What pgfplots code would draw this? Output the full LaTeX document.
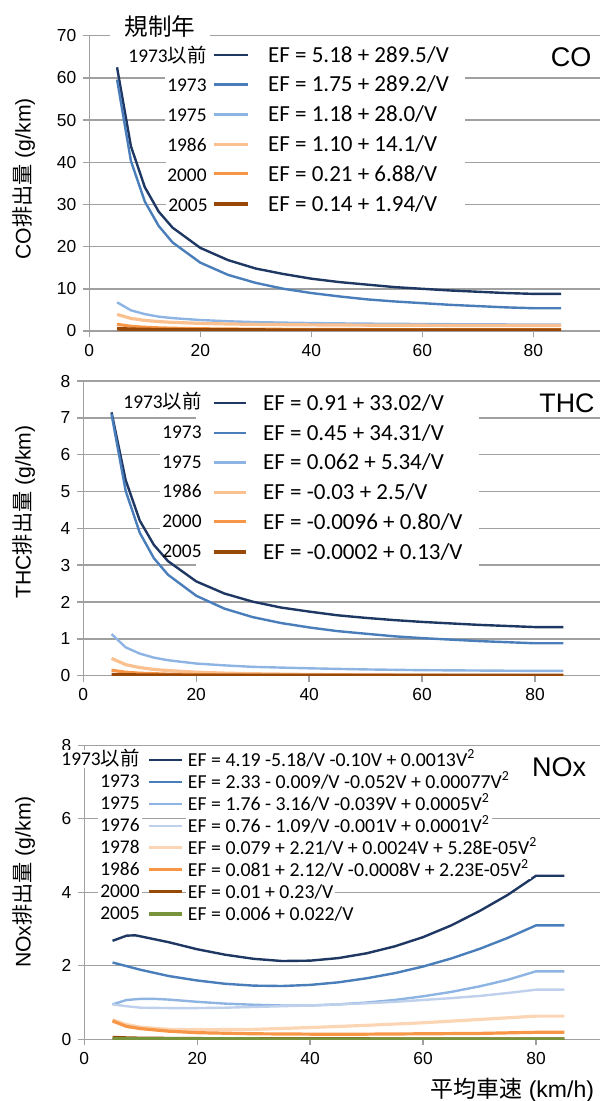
\documentclass[border=0pt]{standalone}
\usepackage{fontspec}
\usepackage{pgfplots}
\pgfplotsset{compat=1.18}
\setmainfont{Liberation Sans}
\newfontfamily\calib{Carlito}
\newfontfamily\jp{Noto Sans CJK JP}

\definecolor{cNavy}{RGB}{31,56,99}
\definecolor{cBlue}{RGB}{74,126,187}
\definecolor{cLBlue}{RGB}{141,180,226}
\definecolor{cPBlue}{RGB}{190,208,235}
\definecolor{cPOrange}{RGB}{252,213,181}
\definecolor{cLOrange}{RGB}{250,192,144}
\definecolor{cOrange}{RGB}{247,150,70}
\definecolor{cBrown}{RGB}{152,72,7}
\definecolor{cGreen}{RGB}{119,147,60}
\definecolor{gridc}{RGB}{160,160,160}

\pgfplotsset{
  panel/.style={
    scale only axis, anchor=south west,
    xmin=0, ymin=0, xtick={0,20,40,60,80},
    axis lines=left,
    axis line style={-, draw=gridc, line width=0.7pt},
    ymajorgrids, grid style={draw=gridc, line width=0.7pt},
    tick align=outside, major tick length=3pt,
    tick style={draw=gridc, line width=0.7pt},
    ticklabel style={font=\fontsize{8.7}{10}\selectfont},
    /pgf/number format/assume math mode=true,
    ylabel style={anchor=center, font=\fontsize{10.6}{12}\selectfont},
    no marks, line join=round,
    legend cell align=left,
  },
}

\begin{document}
\begin{tikzpicture}
\useasboundingbox (0,0) rectangle (300pt,550.5pt);

% ---- CO ----
\begin{axis}[panel, at={(44.65pt,385pt)}, width=255.3pt, height=147.65pt,
  xmax=92, ymax=70, ytick={0,10,...,70},
  ylabel={CO{\jp 排出量} (g/km)},
  ylabel style={at={(axis description cs:-0.128,0.515)}},
  legend style={at={(axis description cs:0.1502,0.9795)}, anchor=north west,
    fill=white, draw=none, inner xsep=8pt, inner ysep=1pt,
    row sep=4.3pt, column sep=9pt,
    font=\calib\fontsize{11.5}{12}\selectfont,
    nodes={inner sep=0pt, text height=9pt, text depth=1.6pt}},
  legend image code/.code={\path (-15pt,0pt); \draw[#1] (0pt,0pt) -- (17pt,0pt);},
]
\addplot[cNavy, line width=1.2pt] coordinates {
  (5,62.5) (7.5,43.8) (10,34.1) (12.5,28.3) (15,24.5) (20,19.7) (25,16.8)
  (30,14.8) (35,13.5) (40,12.4) (45,11.6) (50,11.0) (55,10.4) (60,10.0)
  (65,9.6) (70,9.3) (75,9.0) (80,8.8) (85,8.8)};
\addplot[cBlue, line width=1.2pt] coordinates {
  (5,59.6) (7.5,40.3) (10,30.7) (12.5,24.9) (15,21.0) (20,16.2) (25,13.3)
  (30,11.4) (35,10.0) (40,9.0) (45,8.2) (50,7.5) (55,7.0) (60,6.6)
  (65,6.2) (70,5.9) (75,5.6) (80,5.4) (85,5.4)};
\addplot[cLBlue, line width=1.2pt] coordinates {
  (5,6.8) (7.5,4.9) (10,4.0) (12.5,3.4) (15,3.05) (20,2.6) (25,2.3)
  (30,2.1) (35,1.98) (40,1.88) (45,1.8) (50,1.74) (55,1.69) (60,1.65)
  (65,1.61) (70,1.58) (75,1.55) (80,1.53) (85,1.53)};
\addplot[cLOrange, line width=1.6pt] coordinates {
  (5,3.92) (7.5,2.98) (10,2.51) (12.5,2.23) (15,2.04) (20,1.81) (25,1.66)
  (30,1.57) (35,1.5) (40,1.45) (45,1.41) (50,1.38) (55,1.36) (60,1.34)
  (65,1.32) (70,1.3) (75,1.29) (80,1.28) (85,1.28)};
\addplot[cOrange, line width=1.5pt] coordinates {
  (5,1.59) (7.5,1.13) (10,0.9) (12.5,0.76) (15,0.67) (20,0.55) (25,0.49)
  (30,0.44) (35,0.41) (40,0.38) (50,0.35) (60,0.32) (70,0.31) (80,0.3) (85,0.3)};
\addplot[cBrown, line width=1.9pt] coordinates {
  (5,0.53) (7.5,0.4) (10,0.33) (15,0.27) (20,0.24) (30,0.2) (40,0.19)
  (50,0.18) (60,0.17) (70,0.17) (80,0.16) (85,0.16)};
\addlegendentry{EF = 5.18 + 289.5/V}
\addlegendentry{EF = 1.75 + 289.2/V}
\addlegendentry{EF = 1.18 + 28.0/V}
\addlegendentry{EF = 1.10 + 14.1/V}
\addlegendentry{EF = 0.21 + 6.88/V}
\addlegendentry{EF = 0.14 + 1.94/V}
\end{axis}

% ---- THC ----
\begin{axis}[panel, at={(41.65pt,212.65pt)}, width=258.35pt, height=147.35pt,
  xmax=91.5, ymax=8, ytick={0,1,...,8},
  ylabel={THC{\jp 排出量} (g/km)},
  ylabel style={at={(axis description cs:-0.115,0.555)}},
  legend style={at={(axis description cs:0.2181,0.9759)}, anchor=north west,
    fill=white, draw=none, inner xsep=8pt, inner ysep=2pt,
    row sep=4.25pt, column sep=7.5pt,
    font=\calib\fontsize{11.5}{12}\selectfont,
    nodes={inner sep=0pt, text height=9pt, text depth=1.6pt}},
  legend image code/.code={\draw[#1] (0pt,0pt) -- (16pt,0pt);},
]
\addplot[cNavy, line width=1.2pt] coordinates {
  (5,7.15) (7.5,5.31) (10,4.21) (12.5,3.55) (15,3.11) (20,2.56) (25,2.23)
  (30,2.01) (35,1.85) (40,1.74) (45,1.64) (50,1.57) (55,1.51) (60,1.46)
  (65,1.42) (70,1.38) (75,1.35) (80,1.32) (85,1.32)};
\addplot[cBlue, line width=1.2pt] coordinates {
  (5,7.1) (7.5,5.02) (10,3.88) (12.5,3.19) (15,2.74) (20,2.17) (25,1.82)
  (30,1.59) (35,1.43) (40,1.31) (45,1.21) (50,1.14) (55,1.07) (60,1.02)
  (65,0.98) (70,0.94) (75,0.91) (80,0.88) (85,0.88)};
\addplot[cLBlue, line width=1.2pt] coordinates {
  (5,1.13) (7.5,0.77) (10,0.6) (12.5,0.49) (15,0.42) (20,0.33) (25,0.28)
  (30,0.24) (40,0.2) (50,0.17) (60,0.15) (70,0.14) (80,0.13) (85,0.13)};
\addplot[cLOrange, line width=1.6pt] coordinates {
  (5,0.47) (7.5,0.3) (10,0.22) (12.5,0.17) (15,0.14) (20,0.095) (25,0.07)
  (30,0.053) (40,0.033) (50,0.02) (60,0.012) (70,0.006) (80,0.001) (85,0.001)};
\addplot[cOrange, line width=1.5pt] coordinates {
  (5,0.15) (7.5,0.097) (10,0.07) (15,0.044) (20,0.03) (30,0.017) (40,0.01)
  (60,0.004) (80,0.0004) (85,0.0004)};
\addplot[cBrown, line width=1.9pt] coordinates {
  (5,0.026) (10,0.013) (20,0.0063) (40,0.003) (80,0.0014) (85,0.0014)};
\addlegendentry{EF = 0.91 + 33.02/V}
\addlegendentry{EF = 0.45 + 34.31/V}
\addlegendentry{EF = 0.062 + 5.34/V}
\addlegendentry{EF = -0.03 + 2.5/V}
\addlegendentry{EF = -0.0096 + 0.80/V}
\addlegendentry{EF = -0.0002 + 0.13/V}
\end{axis}

% ---- NOx ----
\begin{axis}[panel, at={(42.15pt,30.85pt)}, width=257.75pt, height=147pt,
  xmax=91.3, ymax=8, ytick={0,2,...,8},
  ylabel={NOx{\jp 排出量} (g/km)},
  ylabel style={at={(axis description cs:-0.117,0.535)}},
  xlabel={{\jp 平均車速} (km/h)},
  xlabel style={at={(axis description cs:0.83,-0.172)}, anchor=center,
    font=\fontsize{11.5}{12}\selectfont},
  legend style={at={(axis description cs:0.1216,0.984)}, anchor=north west,
    fill=none, draw=none, inner sep=0pt,
    row sep=1.7pt, column sep=1pt,
    font=\calib\fontsize{9.9}{10}\selectfont,
    nodes={inner xsep=1pt, inner ysep=0.5pt, text height=7.3pt, text depth=1pt, fill=white}},
  legend image code/.code={\draw[#1] (0pt,0pt) -- (16.5pt,0pt);},
]
\addplot[cNavy, line width=1.2pt] coordinates {
  (5,2.68) (7.5,2.82) (9,2.83) (10,2.80) (15,2.64) (20,2.45) (25,2.30) (30,2.19)
  (35,2.13) (40,2.14) (45,2.21) (50,2.34) (55,2.53) (60,2.78) (65,3.10)
  (70,3.49) (75,3.93) (80,4.45) (85,4.45)};
\addplot[cBlue, line width=1.2pt] coordinates {
  (5,2.09) (10,1.89) (15,1.72) (20,1.60) (25,1.51) (30,1.46) (35,1.45)
  (40,1.48) (45,1.55) (50,1.66) (55,1.80) (60,1.98) (65,2.20) (70,2.46)
  (75,2.76) (80,3.10) (85,3.10)};
\addplot[cLBlue, line width=1.2pt] coordinates {
  (5,0.95) (7.5,1.07) (10,1.10) (12.5,1.10) (15,1.08) (20,1.02) (25,0.97) (30,0.94)
  (35,0.92) (40,0.92) (45,0.95) (50,1.0) (55,1.07) (60,1.17) (65,1.29)
  (70,1.44) (75,1.62) (80,1.85) (85,1.85)};
\addplot[cPBlue, line width=1.2pt] coordinates {
  (5,0.95) (7.5,0.9) (10,0.86) (15,0.85) (20,0.85) (25,0.86) (30,0.88)
  (35,0.9) (40,0.92) (45,0.95) (50,0.98) (55,1.02) (60,1.07) (65,1.12)
  (70,1.18) (75,1.26) (80,1.35) (85,1.35)};
\addplot[cPOrange, line width=1.6pt] coordinates {
  (5,0.53) (7.5,0.4) (10,0.33) (15,0.27) (20,0.26) (30,0.27) (40,0.32)
  (50,0.38) (60,0.45) (70,0.54) (80,0.63) (85,0.63)};
\addplot[cOrange, line width=1.6pt] coordinates {
  (5,0.5) (7.5,0.35) (10,0.29) (15,0.22) (20,0.18) (30,0.15) (40,0.14)
  (50,0.14) (60,0.15) (70,0.16) (80,0.19) (85,0.19)};
\addplot[cBrown, line width=1.5pt] coordinates {
  (5,0.056) (7.5,0.041) (10,0.033) (20,0.022) (40,0.016) (60,0.014) (80,0.013) (85,0.013)};
\addplot[cGreen, line width=1.8pt] coordinates {
  (5,0.01) (10,0.008) (20,0.007) (40,0.0066) (80,0.0063) (85,0.0063)};
\addlegendentry{EF = 4.19 -5.18/V -0.10V + 0.0013V\textsuperscript{2}}
\addlegendentry{EF = 2.33 - 0.009/V -0.052V + 0.00077V\textsuperscript{2}}
\addlegendentry{EF = 1.76 - 3.16/V -0.039V + 0.0005V\textsuperscript{2}}
\addlegendentry{EF = 0.76 - 1.09/V -0.001V + 0.0001V\textsuperscript{2}}
\addlegendentry{EF = 0.079 + 2.21/V + 0.0024V + 5.28E-05V\textsuperscript{2}}
\addlegendentry{EF = 0.081 + 2.12/V -0.0008V + 2.23E-05V\textsuperscript{2}}
\addlegendentry{EF = 0.01 + 0.23/V}
\addlegendentry{EF = 0.006 + 0.022/V}
\end{axis}

% ---- labels placed in pixel units of the reference ----
\begin{scope}[shift={(0pt,550.5pt)}, x=0.5pt, y=-0.5pt]
\tikzset{yr/.style={anchor=east, font=\calib\fontsize{9.7}{10}\selectfont,
  inner sep=1pt, text height=6.5pt, text depth=0.4pt, fill=white}}
\node[font=\jp\fontsize{11.8}{12}\selectfont, fill=white, inner xsep=7.5pt, inner ysep=1pt] at (160,27) {規制年};
\node[font=\fontsize{13.5}{14}\selectfont] at (571,57) {CO};
\node[font=\fontsize{13.4}{14}\selectfont] at (567,403) {THC};
\node[font=\fontsize{13.5}{14}\selectfont] at (559,767) {NOx};
% CO years
\node[yr] at (209,56) {1973{\jp 以前}};
\node[yr] at (209,85.8) {1973};
\node[yr] at (209,115.6) {1975};
\node[yr] at (209,145.4) {1986};
\node[yr] at (209,175.2) {2000};
\node[yr] at (210,205) {2005};
% THC years
\node[yr] at (204,402.7) {1973{\jp 以前}};
\node[yr] at (204,432.4) {1973};
\node[yr] at (204,462.1) {1975};
\node[yr] at (204,491.8) {1986};
\node[yr] at (204,521.5) {2000};
\node[yr, fill=none] at (204,551.2) {2005};
% NOx years
\node[yr] at (142,759.3) {1973{\jp 以前}};
\node[yr] at (142,781.3) {1973};
\node[yr] at (142,803.3) {1975};
\node[yr] at (142,825.3) {1976};
\node[yr] at (142,847.3) {1978};
\node[yr] at (142,869.3) {1986};
\node[yr] at (142,891.3) {2000};
\node[yr] at (142,913.3) {2005};
\end{scope}
\end{tikzpicture}
\end{document}
